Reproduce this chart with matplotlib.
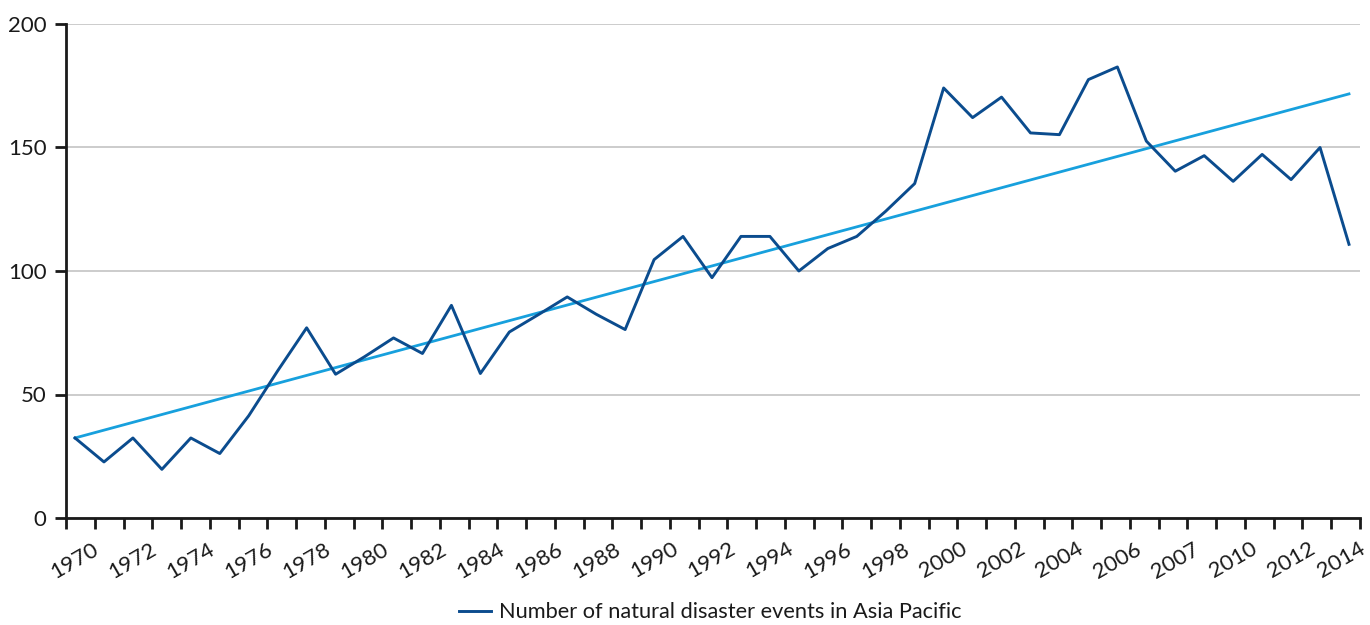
import numpy as np
import matplotlib
matplotlib.use("Agg")
import matplotlib.pyplot as plt
import matplotlib.transforms as mtransforms

# -----------------------------------------
# DATA
# -----------------------------------------

years = list(range(1970, 2015))

events = [
    32.4, 22.7, 32.4, 19.7, 32.4, 26.1, 41.4, 59.6, 77.0, 58.2,
    65.3, 72.9, 66.6, 86.1, 58.5, 75.3, 82.3, 89.5, 82.5, 76.3,
    104.6, 114.0, 97.3, 114.0, 114.0, 100.0, 109.1, 114.0, 124.2, 135.4,
    174.1, 162.1, 170.4, 155.9, 155.2, 177.5, 182.6, 152.6, 140.4, 146.7,
    136.3, 147.2, 137.0, 150.0, 110.8
]

# linear trendline, first and last value as shown on the chart
trend_ends = [32.4, 171.7]

# tick labels as printed on the original chart (every second category)
tick_labels = [
    '1970', '1972', '1974', '1976', '1978', '1980', '1982', '1984',
    '1986', '1988', '1990', '1992', '1994', '1996', '1998', '2000',
    '2002', '2004', '2006', '2007', '2010', '2012', '2014'
]

y_ticks = [0, 50, 100, 150, 200]

DARK_BLUE = '#0B4C8E'
LIGHT_BLUE = '#17A0DD'
TEXT = '#1A1A1A'

plt.rcParams['font.family'] = ['Lato', 'DejaVu Sans']

# -----------------------------------------
# FIGURE
# -----------------------------------------

fig = plt.figure(figsize=(13.7, 6.25), dpi=100)
ax = fig.add_axes([0.0482, 0.1712, 0.9445, 0.7904])

x = np.arange(len(events))

ax.plot(x, events, color=DARK_BLUE, linewidth=2.1,
        label='Number of natural disaster events in Asia Pacific', zorder=3)
ax.plot([x[0], x[-1]], trend_ends, color=LIGHT_BLUE, linewidth=2.0, zorder=2)

x_lo, x_hi = -0.31, len(events) - 1 + 0.38
ax.set_xlim(x_lo, x_hi)
ax.set_ylim(0, 200)

# category ticks along the axis
ax.set_xticks(np.linspace(x_lo, x_hi, len(events) + 1), minor=True)
ax.set_xticks(x[::2])
ax.set_xticklabels(tick_labels, rotation=30, ha='center',
                   fontsize=16, color=TEXT)
ax.tick_params(axis='x', which='major', length=0, pad=15)
ax.tick_params(axis='x', which='minor', length=8, width=2,
               direction='out', color=TEXT)

# nudge the last label left so it stays inside the figure
last = ax.get_xticklabels()[-1]
shift = mtransforms.ScaledTranslation(-8 / 100, 0, fig.dpi_scale_trans)
last.set_transform(last.get_transform() + shift)

ax.set_yticks(y_ticks)
ax.set_yticklabels([str(v) for v in y_ticks], fontsize=16, color=TEXT)
ax.tick_params(axis='y', length=8, width=2, direction='out',
               color=TEXT, pad=6)

ax.grid(axis='y', color='#C8C8C8', linewidth=1.3)
ax.set_axisbelow(True)

for side in ['top', 'right']:
    ax.spines[side].set_visible(False)
for side in ['left', 'bottom']:
    ax.spines[side].set_linewidth(2)
    ax.spines[side].set_color(TEXT)

fig.legend(loc='center', bbox_to_anchor=(710 / 1370, 0.02),
           frameon=False, fontsize=15.7, handlelength=1.5,
           handletextpad=0.35, labelcolor=TEXT, borderpad=0)

plt.savefig("out.png", dpi=100)
